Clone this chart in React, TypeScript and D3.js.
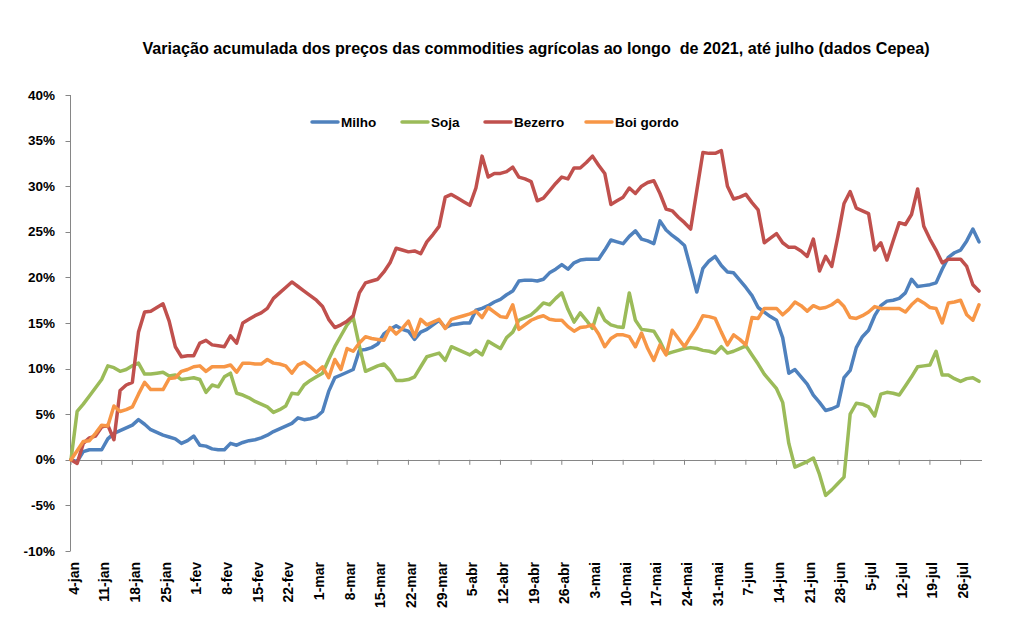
import React from "react";
import * as d3 from "d3";

const weekLabels = ["4-jan","11-jan","18-jan","25-jan","1-fev","8-fev","15-fev","22-fev","1-mar","8-mar","15-mar","22-mar","29-mar","5-abr","12-abr","19-abr","26-abr","3-mai","10-mai","17-mai","24-mai","31-mai","7-jun","14-jun","21-jun","28-jun","5-jul","12-jul","19-jul","26-jul"];

const milho = [0.0,-0.2,0.9,1.1,1.1,1.1,2.3,2.9,3.2,3.5,3.8,4.4,3.9,3.3,3.0,2.7,2.5,2.3,1.8,2.1,2.6,1.6,1.5,1.2,1.1,1.1,1.8,1.6,1.9,2.1,2.2,2.4,2.7,3.1,3.4,3.7,4.0,4.6,4.4,4.5,4.7,5.3,7.5,9.0,9.3,9.6,9.9,12.0,12.1,12.3,12.7,13.8,14.3,14.7,14.3,14.1,13.2,14.0,14.3,14.8,15.3,14.5,14.8,14.9,15.0,15.0,16.4,16.6,16.9,17.3,17.6,18.1,18.5,19.6,19.7,19.7,19.6,19.8,20.5,20.9,21.4,20.9,21.6,21.9,22.0,22.0,22.0,23.0,24.1,23.9,23.7,24.5,25.1,24.2,24.0,23.7,26.2,25.2,24.6,24.1,23.5,21.0,18.4,21.0,21.8,22.3,21.3,20.6,20.5,19.7,18.9,18.0,16.7,16.2,15.7,15.3,13.4,9.5,9.9,9.1,8.3,7.1,6.3,5.4,5.6,5.9,9.0,9.8,12.3,13.5,14.2,15.8,16.9,17.4,17.5,17.7,18.3,19.8,19.0,19.1,19.2,19.4,20.9,22.2,22.7,23.0,24.0,25.3,23.9];

const soja = [0.0,5.3,6.1,7.0,7.9,8.8,10.3,10.1,9.7,9.9,10.3,10.6,9.4,9.4,9.5,9.6,9.2,9.3,8.8,8.9,9.0,8.8,7.4,8.2,8.0,9.1,9.5,7.3,7.1,6.8,6.4,6.1,5.8,5.2,5.5,5.9,7.3,7.2,8.2,8.7,9.1,9.5,11.0,12.4,13.6,14.8,15.6,12.5,9.7,10.0,10.3,10.5,9.8,8.7,8.7,8.8,9.1,10.2,11.3,11.5,11.7,10.9,12.4,12.1,11.8,11.5,12.0,11.5,13.0,12.6,12.2,13.4,14.0,15.3,15.6,15.9,16.5,17.2,17.0,17.7,18.3,16.5,15.1,16.1,15.3,14.4,16.6,15.3,14.8,14.6,14.5,18.3,15.3,14.3,14.2,14.1,13.0,11.6,11.8,12.0,12.2,12.3,12.2,12.0,11.9,11.7,12.4,11.7,11.9,12.2,12.5,11.5,10.5,9.4,8.6,7.8,6.3,1.8,-0.8,-0.5,-0.2,0.2,-1.6,-3.9,-3.3,-2.6,-1.9,5.0,6.2,6.1,5.8,4.8,7.2,7.4,7.3,7.1,8.1,9.1,10.2,10.3,10.4,11.9,9.3,9.3,8.9,8.6,8.9,9.0,8.6];

const bezerro = [0.0,-0.4,1.8,2.4,2.6,3.6,3.8,2.2,7.6,8.2,8.5,14.0,16.2,16.3,16.7,17.1,15.2,12.4,11.3,11.4,11.4,12.8,13.1,12.6,12.5,12.4,13.6,12.8,15.0,15.4,15.8,16.1,16.6,17.7,18.3,18.9,19.5,19.0,18.5,18.0,17.5,16.8,15.4,14.5,14.8,15.2,15.8,18.3,19.4,19.6,19.8,20.6,21.6,23.2,23.0,22.8,22.9,22.6,23.9,24.7,25.6,28.8,29.1,28.7,28.3,27.9,29.8,33.3,31.0,31.4,31.4,31.6,32.1,31.0,30.8,30.5,28.4,28.7,29.5,30.3,31.0,30.8,32.0,32.0,32.6,33.3,32.3,31.4,28.0,28.4,28.8,29.8,29.2,30.0,30.4,30.6,29.2,27.5,27.3,26.6,26.0,25.3,29.5,33.7,33.6,33.6,33.9,30.0,28.6,28.8,29.1,28.2,27.4,23.8,24.3,24.8,23.8,23.3,23.3,22.9,22.3,24.2,20.7,22.3,21.2,24.5,28.1,29.4,27.6,27.3,27.0,23.0,23.8,21.9,24.0,26.0,25.8,26.9,29.7,25.6,24.2,23.0,21.6,22.0,22.0,22.0,21.2,19.2,18.5];

const boiGordo = [0.0,1.0,2.0,2.1,2.9,3.8,3.7,5.9,5.3,5.5,5.8,7.2,8.5,7.7,7.7,7.7,8.9,9.0,9.7,9.9,10.2,10.3,9.7,10.2,10.2,10.2,10.4,9.6,10.6,10.6,10.5,10.5,11.0,10.6,10.5,10.3,9.5,10.4,10.7,10.2,9.6,10.2,9.0,11.0,9.9,12.2,11.9,12.8,13.5,13.3,13.2,13.1,14.5,13.8,14.4,15.2,13.5,15.4,14.8,15.1,15.4,14.4,15.4,15.6,15.8,16.0,16.3,15.6,16.7,16.2,15.7,15.6,17.0,14.3,14.8,15.3,15.6,15.8,15.4,15.3,15.3,14.6,14.1,14.5,14.6,14.8,13.8,12.4,13.3,13.7,13.7,13.5,12.4,13.9,12.2,10.9,12.6,11.5,14.2,13.3,12.4,13.5,14.5,15.8,15.7,15.5,14.0,12.6,13.7,13.2,12.6,15.6,15.5,16.6,16.6,16.6,15.9,16.5,17.3,16.9,16.3,16.9,16.6,16.7,17.0,17.5,16.8,15.6,15.5,15.8,16.2,16.8,16.6,16.6,16.6,16.6,16.2,17.0,17.6,17.2,16.7,16.6,15.0,17.2,17.3,17.5,15.9,15.3,17.0];

const seriesNames = ["Milho", "Soja", "Bezerro", "Boi gordo"];
const seriesColors = ["#4F81BD", "#9BBB59", "#C0504D", "#F79646"];
const seriesData = [milho, soja, bezerro, boiGordo];
const yTicks = [-10, -5, 0, 5, 10, 15, 20, 25, 30, 35, 40];

const TITLE = "Variação acumulada dos preços das commodities agrícolas ao longo  de 2021, até julho (dados Cepea)";
const FONT = "'Liberation Sans', Arial, sans-serif";
const AXIS = "#868686";

export default function App() {
  const n = milho.length;
  const x = d3.scaleLinear().domain([0, n - 1]).range([71, 979]);
  const y = d3.scaleLinear().domain([-10, 40]).range([551, 95]);
  const line = d3.line<number>().x((_, i) => x(i)).y((d) => y(d));
  const y0 = y(0);
  const legendX = [312, 402, 485, 586];

  return (
    <svg width={1012} height={631} style={{ position: "absolute", left: 0, top: 0, background: "#fff" }} fontFamily={FONT}>
      <rect width={1012} height={631} fill="#fff" />
      <text x={536} y={54} textAnchor="middle" fontSize={16} fontWeight="bold" textLength={787} lengthAdjust="spacingAndGlyphs" style={{ whiteSpace: "pre" }}>{TITLE}</text>

      {/* y axis */}
      <line x1={70.5} x2={70.5} y1={y(40)} y2={y(-10)} stroke={AXIS} strokeWidth={1} />
      {yTicks.map((t) => (
        <g key={t}>
          <line x1={65.5} x2={70.5} y1={Math.round(y(t)) + 0.5} y2={Math.round(y(t)) + 0.5} stroke={AXIS} />
          <text x={55} y={y(t) + 4.5} textAnchor="end" fontSize={13.5} fontWeight="bold">{t + "%"}</text>
        </g>
      ))}

      {/* x axis at 0 */}
      <line x1={70.5} x2={982} y1={Math.round(y0) + 0.5} y2={Math.round(y0) + 0.5} stroke={AXIS} />
      {weekLabels.map((lab, k) => {
        const xi = x(k * 5);
        return (
          <g key={lab}>
            <line x1={xi} x2={xi} y1={y0} y2={y0 + 5} stroke={AXIS} />
            <text transform={`translate(${xi + 7.5},562) rotate(-90)`} textAnchor="end" fontSize={14} fontWeight="bold">{lab}</text>
          </g>
        );
      })}

      {/* series */}
      {seriesData.map((s, k) => (
        <path key={seriesNames[k]} d={line(s) || ""} fill="none" stroke={seriesColors[k]} strokeWidth={3.5} strokeLinejoin="round" strokeLinecap="round" />
      ))}

      {/* legend */}
      {seriesNames.map((nm, k) => (
        <g key={nm}>
          <line x1={legendX[k]} x2={legendX[k] + 26} y1={122} y2={122} stroke={seriesColors[k]} strokeWidth={3.5} strokeLinecap="round" />
          <text x={legendX[k] + 29} y={126.5} fontSize={13.5} fontWeight="bold">{nm}</text>
        </g>
      ))}
    </svg>
  );
}
